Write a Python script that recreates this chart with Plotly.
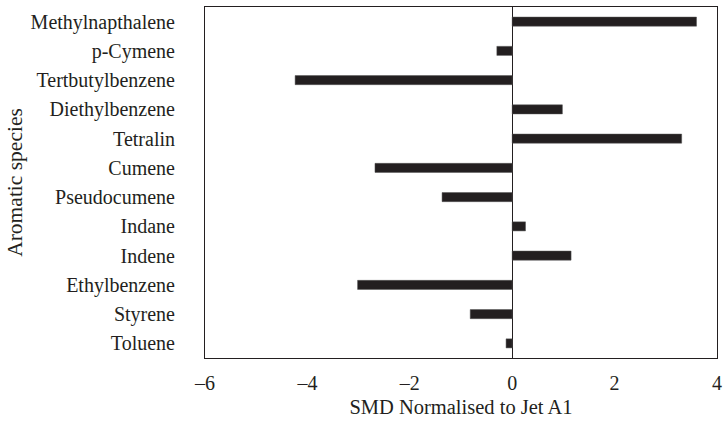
import plotly.graph_objects as go

species = ["Methylnapthalene", "p-Cymene", "Tertbutylbenzene", "Diethylbenzene",
           "Tetralin", "Cumene", "Pseudocumene", "Indane", "Indene",
           "Ethylbenzene", "Styrene", "Toluene"]
smd = [3.60, -0.30, -4.24, 0.98, 3.31, -2.68, -1.37, 0.26, 1.15, -3.02, -0.82, -0.12]

x_ticks = [-6, -4, -2, 0, 2, 4]

FONT = "Liberation Serif"

fig = go.Figure(go.Bar(
    y=species, x=smd, orientation="h", width=0.31,
    marker=dict(color="#231f20", line=dict(color="#555555", width=0.5)),
))

fig.update_layout(
    width=728, height=421,
    margin=dict(l=205, r=6, t=7, b=63),
    paper_bgcolor="white", plot_bgcolor="white",
    font=dict(family=FONT, size=20, color="#231f20"),
    showlegend=False,
    xaxis=dict(
        range=[-6, 4], tickvals=x_ticks,
        ticktext=["\u2013" + str(abs(v)) if v < 0 else str(v) for v in x_ticks],
        showgrid=False, zeroline=True, zerolinecolor="#231f20", zerolinewidth=1,
        showline=True, linecolor="#231f20", linewidth=1, mirror=True,
        ticks="", ticklabelstandoff=7, ticklabeloverflow="allow",
        title=dict(text="SMD Normalised to Jet A1", standoff=6, font=dict(size=20.5)),
    ),
    yaxis=dict(
        categoryorder="array", categoryarray=species[::-1],
        range=[-0.5, 11.5],
        showgrid=False, zeroline=False,
        showline=True, linecolor="#231f20", linewidth=1, mirror=True,
        ticks="", ticklabelstandoff=25,
        title=dict(text="Aromatic species", standoff=2, font=dict(size=21.5)),
    ),
)

fig.write_html("out.html")
